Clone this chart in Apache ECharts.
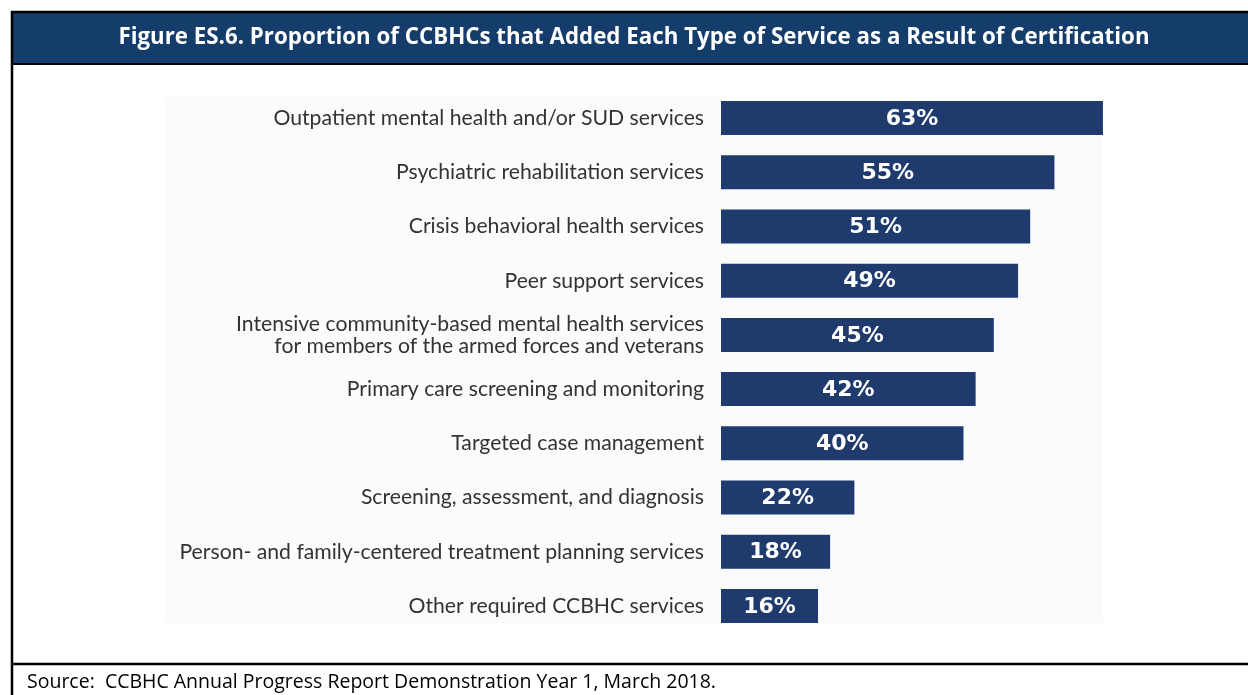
<!DOCTYPE html>
<html><head><meta charset="utf-8">
<script src="https://cdn.jsdelivr.net/npm/echarts@6/dist/echarts.min.js"></script>
<style>html,body{margin:0;padding:0;background:#fff}#c{width:1248px;height:695px}</style>
</head><body><div id="c"></div>
<script>
const categories = [
  "Outpatient mental health and/or SUD services",
  "Psychiatric rehabilitation services",
  "Crisis behavioral health services",
  "Peer support services",
  "Intensive community-based mental health services\nfor members of the armed forces and veterans",
  "Primary care screening and monitoring",
  "Targeted case management",
  "Screening, assessment, and diagnosis",
  "Person- and family-centered treatment planning services",
  "Other required CCBHC services"
];
const values = [63, 55, 51, 49, 45, 42, 40, 22, 18, 16];
const titleText = "Figure ES.6. Proportion of CCBHCs that Added Each Type of Service as a Result of Certification";
const sourceText = "Source:  CCBHC Annual Progress Report Demonstration Year 1, March 2018.";

const chart = echarts.init(document.getElementById('c'), null, {renderer: 'canvas'});
chart.setOption({
  animation: false,
  backgroundColor: '#fff',
  grid: {left: 721, top: 91, height: 542, width: 485, containLabel: false},
  xAxis: {type: 'value', min: 0, max: 80, show: false},
  yAxis: {
    type: 'category', data: categories, inverse: true,
    axisLine: {show: false}, axisTick: {show: false},
    axisLabel: {margin: 17, color: '#333', fontSize: 21.2, fontFamily: 'Lato', lineHeight: 22, align: 'right'}
  },
  series: [{
    type: 'bar', data: values, barWidth: 34,
    itemStyle: {color: '#1f3a6c'},
    label: {show: true, position: 'inside', offset: [0, 1], formatter: '{c}%', color: '#fff', fontSize: 22, fontWeight: 'bold', fontFamily: 'DejaVu Sans'}
  }],
  graphic: [
    {type: 'rect', z: -10, shape: {x: 165, y: 97, width: 938, height: 526}, style: {fill: '#fbfbfb'}},
    {type: 'rect', shape: {x: 12, y: 12, width: 1240, height: 52}, style: {fill: '#143d6b'}},
    {type: 'line', shape: {x1: 11, y1: 12, x2: 1248, y2: 12}, style: {stroke: '#000', lineWidth: 2.5}},
    {type: 'line', shape: {x1: 11, y1: 64, x2: 1248, y2: 64}, style: {stroke: '#000', lineWidth: 2}},
    {type: 'line', shape: {x1: 12, y1: 11, x2: 12, y2: 695}, style: {stroke: '#000', lineWidth: 2.5}},
    {type: 'line', shape: {x1: 11, y1: 664, x2: 1248, y2: 664}, style: {stroke: '#000', lineWidth: 2.5}},
    {type: 'text', x: 634, y: 38, style: {text: titleText, fill: '#fff', font: 'bold 22.3px "Open Sans"', textAlign: 'center', textVerticalAlign: 'middle'}},
    {type: 'text', x: 27, y: 682, style: {text: sourceText, fill: '#000', font: '19.5px "Open Sans"', textAlign: 'left', textVerticalAlign: 'middle'}}
  ]
});
</script></body></html>
